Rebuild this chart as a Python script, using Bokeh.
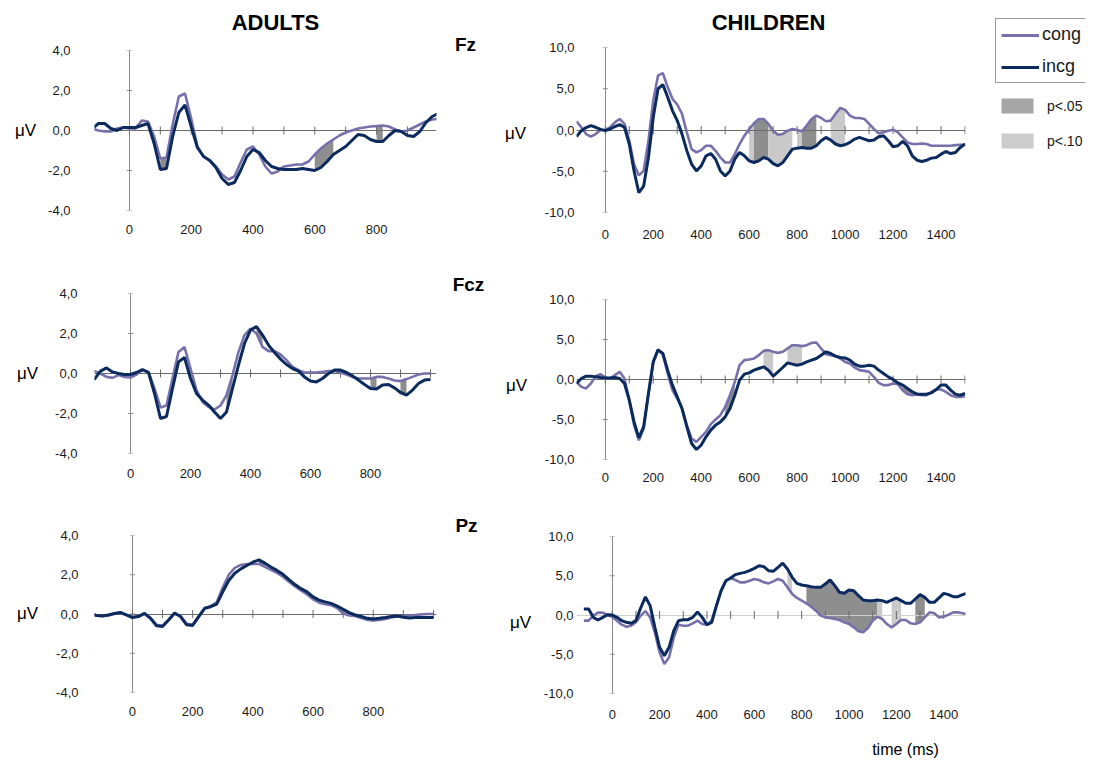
import numpy as np
from bokeh.plotting import figure
from bokeh.models import Range1d, FixedTicker, Label, Legend, LegendItem
from bokeh.layouts import row, column
from bokeh.embed import file_html
from bokeh.resources import INLINE

# ---------------- data ----------------
t_adult = list(range(-140, 1001, 20))
t_child = list(range(-120, 1501, 20))

adult_fz_cong = [0.1, 0.1, 0.0, -0.05, -0.05, 0.1, 0.15,
                 0.1, 0.1, 0.5, 0.45, -0.3, -1.4, -1.35, 0.3, 1.7, 1.85, 0.6, -0.8, -1.3, -1.5, -1.8, -2.2, -2.45, -2.3,
                 -1.6, -0.95, -0.8, -1.2, -1.8, -2.15, -2.05, -1.8, -1.75, -1.7, -1.7, -1.55, -1.2, -0.9, -0.65, -0.45,
                 -0.25, -0.1, 0.0, 0.1, 0.15, 0.2, 0.22, 0.25, 0.2, 0.05, -0.05, 0.0, 0.15, 0.3, 0.45, 0.55, 0.58]
adult_fz_incg = [0.1, 0.1, 0.35, 0.35, 0.1, 0.0, 0.15,
                 0.15, 0.15, 0.25, 0.35, -0.65, -1.95, -1.9, -0.3, 0.9, 1.28, 0.2, -0.85, -1.3, -1.5, -1.85, -2.4, -2.7, -2.6,
                 -2.0, -1.3, -0.95, -1.1, -1.5, -1.8, -1.9, -1.95, -1.95, -1.95, -1.9, -1.95, -2.0, -1.85, -1.55, -1.2,
                 -1.0, -0.8, -0.5, -0.2, -0.25, -0.45, -0.55, -0.55, -0.25, 0.0, -0.05, -0.25, -0.3, -0.05, 0.4, 0.7, 0.85]

adult_fcz_cong = [0.12, 0.12, 0.0, -0.17, -0.22, -0.08, -0.17,
                  -0.2, -0.05, 0.17, 0.08, -0.75, -1.7, -1.6, -0.25, 1.08, 1.32, 0.25, -0.83, -1.42, -1.67, -1.8, -1.6, -1.08, -0.08,
                  1.08, 1.92, 2.25, 2.0, 1.33, 1.12, 1.12, 0.95, 0.67, 0.33, 0.17, 0.05, 0.05, 0.05, 0.08, 0.12,
                  0.12, 0.05, -0.05, -0.17, -0.25, -0.25, -0.25, -0.17, -0.17, -0.25, -0.35, -0.38, -0.28, -0.17, -0.05, 0.0, 0.0]
adult_fcz_incg = [-0.28, -0.28, 0.12, 0.28, 0.08, 0.0, -0.05,
                  -0.05, 0.05, 0.2, 0.05, -1.0, -2.25, -2.15, -0.75, 0.58, 0.8, -0.25, -1.0, -1.33, -1.58, -1.92, -2.25, -1.92, -0.75,
                  0.42, 1.5, 2.17, 2.35, 1.92, 1.42, 1.05, 0.72, 0.45, 0.25, 0.12, -0.17, -0.38, -0.42, -0.25, 0.0,
                  0.17, 0.17, 0.05, -0.12, -0.33, -0.55, -0.75, -0.78, -0.58, -0.55, -0.72, -0.95, -1.08, -0.83, -0.5, -0.33, -0.3]

adult_pz_cong = [0.03, -0.05, -0.1, -0.07, 0.0, 0.05, -0.05,
                 -0.15, -0.12, 0.02, -0.2, -0.55, -0.6, -0.3, 0.02, -0.12, -0.5, -0.55, -0.15, 0.3, 0.4, 0.6, 1.35, 2.0, 2.35,
                 2.5, 2.55, 2.55, 2.55, 2.4, 2.25, 2.1, 1.9, 1.65, 1.4, 1.2, 1.0, 0.75, 0.58, 0.5, 0.45,
                 0.3, 0.02, -0.08, -0.1, -0.2, -0.3, -0.33, -0.3, -0.25, -0.18, -0.12, -0.1, -0.08, -0.05, -0.02, 0.0, 0.0]
adult_pz_incg = [0.0, -0.08, -0.1, -0.05, 0.03, 0.08, -0.05,
                 -0.18, -0.13, 0.03, -0.22, -0.6, -0.64, -0.3, 0.05, -0.13, -0.55, -0.58, -0.13, 0.29, 0.37, 0.5, 1.13, 1.71, 2.08,
                 2.3, 2.47, 2.64, 2.76, 2.59, 2.39, 2.22, 2.02, 1.75, 1.5, 1.29, 1.13, 0.87, 0.71, 0.62, 0.54,
                 0.4, 0.24, 0.07, -0.05, -0.13, -0.22, -0.25, -0.22, -0.18, -0.13, -0.1, -0.17, -0.2, -0.18, -0.18, -0.18, -0.18]

child_fz_cong = [1.06, 0.33, -0.49, -0.81, -0.49, 0.0,
                 0.0, 0.33, 0.93, 1.34, 0.73, -1.3, -4.15, -5.5, -4.96, -1.3, 3.58, 6.6, 6.9, 5.2, 3.78, 3.09, 1.95, -0.28, -2.32, -2.72,
                 -2.44, -1.91, -1.91, -2.52, -3.33, -3.94, -3.94, -2.93, -1.7, -0.69, 0.12, 0.81, 1.34, 1.34, 0.73, -0.08,
                 -0.57, -0.49, -0.08, 0.12, 0.0, -0.16, 0.53, 1.34, 1.75, 1.46, 1.06, 1.14, 1.95, 2.68, 2.44,
                 1.75, 1.46, 1.46, 1.34, 0.73, 0.12, -0.41, -0.28, -0.08, 0.04, -0.28, -0.89, -1.5, -1.7, -1.7,
                 -1.63, -1.7, -1.91, -1.91, -1.91, -1.91, -1.91, -1.83, -1.79, -1.79]
child_fz_incg = [-0.8, -0.1, 0.3, 0.53, 0.33, 0.08,
                 -0.08, 0.12, 0.4, 0.65, 0.33, -1.7, -4.96, -7.6, -6.8, -3.33, 1.54, 5.0, 5.5, 4.0, 2.36, 1.14, -0.5, -2.5, -4.15, -4.96,
                 -4.35, -3.13, -2.85, -3.54, -4.96, -5.57, -4.96, -3.54, -2.72, -3.13, -3.74, -3.94, -3.74, -3.33, -3.54, -4.07,
                 -4.35, -3.94, -3.13, -2.32, -2.2, -2.11, -2.2, -2.2, -1.91, -1.3, -0.9, -1.22, -1.7, -1.91, -1.79,
                 -1.5, -1.1, -0.9, -1.1, -1.3, -1.22, -0.81, -0.69, -1.3, -2.03, -1.91, -1.38, -1.91, -3.13, -3.66,
                 -3.82, -3.66, -3.41, -3.33, -2.93, -2.6, -2.85, -2.72, -2.11, -1.7]

child_fcz_cong = [-0.3, -0.92, -1.12, -0.5, 0.42, 0.67,
                  0.25, 0.12, 0.54, 0.96, 0.12, -2.58, -5.7, -7.6, -6.13, -1.75, 2.2, 3.75, 3.17, 0.75, -1.33, -2.38, -3.63, -5.7, -7.38, -7.8,
                  -7.17, -6.54, -5.58, -5.0, -4.46, -3.42, -1.96, -0.3, 1.79, 2.42, 2.5, 2.63, 3.04, 3.58, 3.67, 3.46,
                  3.33, 3.46, 3.88, 4.29, 4.29, 4.17, 4.29, 4.58, 4.63, 3.88, 3.17, 3.04, 2.92, 2.63, 2.2,
                  2.0, 1.5, 1.17, 1.08, 0.96, 0.33, -0.42, -0.7, -0.7, -0.5, -0.58, -1.33, -1.83, -1.96, -1.83,
                  -1.96, -1.96, -1.54, -1.25, -1.25, -1.54, -1.96, -2.17, -2.17, -2.08]
child_fcz_incg = [-0.5, 0.12, 0.42, 0.42, 0.33, 0.25,
                  0.2, 0.2, 0.25, 0.12, -0.5, -2.58, -5.3, -7.3, -5.9, -1.75, 2.2, 3.7, 3.25, 1.17, -0.7, -2.17, -3.63, -5.9, -8.0, -8.75,
                  -8.2, -7.17, -6.33, -5.7, -5.3, -4.67, -3.63, -1.96, -0.08, 0.67, 0.83, 1.17, 1.38, 1.58, 1.17, 0.42,
                  0.96, 1.5, 2.08, 1.92, 1.79, 1.92, 2.2, 2.42, 2.63, 3.04, 3.46, 3.25, 2.92, 2.75, 2.7,
                  2.42, 1.92, 1.67, 1.67, 1.79, 1.67, 1.17, 0.75, 0.33, 0.0, -0.42, -0.7, -1.12, -1.54, -1.83,
                  -1.83, -1.83, -1.67, -1.25, -0.7, -0.7, -1.33, -1.83, -1.96, -1.75]

child_pz_cong = [-0.72, -0.72, -0.08, 0.3, 0.3, 0.0,
                 -0.21, -0.72, -1.23, -1.49, -1.36, -0.93, -0.08, 0.5, -0.3, -2.21, -4.76, -6.24, -5.39, -2.85, -1.23, -1.36, -1.36, -1.06, -0.72, -1.15,
                 -1.23, -0.72, 1.19, 3.1, 4.37, 4.71, 4.46, 4.16, 4.16, 4.37, 4.59, 4.46, 4.16, 4.03, 4.29, 4.59,
                 4.37, 3.52, 2.68, 2.17, 1.83, 1.49, 1.06, 0.55, -0.08, -0.3, -0.38, -0.51, -0.64, -0.93, -1.15,
                 -1.57, -2.08, -2.21, -1.66, -0.72, -0.21, -0.51, -1.15, -1.57, -1.15, -0.64, -0.64, -1.06, -1.15, -0.93,
                 -0.3, 0.34, 0.21, -0.3, -0.21, 0.04, 0.34, 0.34, 0.21, 0.13]
child_pz_incg = [0.76, 0.76, -0.3, -0.64, -0.3, 0.04,
                 0.0, -0.3, -0.72, -0.93, -1.06, -0.72, 0.89, 2.3, 1.19, -1.57, -4.12, -5.18, -4.12, -2.0, -0.72, -0.6, -0.6, -0.3, 0.4, -0.3,
                 -1.23, -0.93, 1.19, 3.1, 4.37, 4.71, 5.14, 5.3, 5.43, 5.65, 5.94, 6.28, 6.16, 5.65, 5.56, 6.07,
                 6.6, 5.86, 4.8, 4.03, 3.82, 3.74, 3.61, 3.52, 3.52, 3.95, 4.46, 3.74, 2.89, 2.76, 3.18,
                 3.1, 2.46, 1.91, 1.83, 1.83, 1.91, 1.83, 1.61, 1.91, 2.17, 1.83, 1.49, 1.49, 2.04, 2.59,
                 2.25, 1.61, 1.61, 2.17, 2.76, 2.59, 2.34, 2.34, 2.59, 2.8]

# significance windows (ms) and level
adult_fz_sig = [(100, 120, "p05"), (600, 660, "p05"), (800, 820, "p05")]
adult_fcz_sig = [(320, 340, "p05"), (420, 440, "p05"), (800, 820, "p05"), (900, 920, "p05")]
adult_pz_sig = [(420, 440, "p05"), (680, 720, "p05")]
child_fz_sig = [(600, 620, "p10"), (620, 680, "p05"), (680, 780, "p10"), (800, 820, "p10"),
                (820, 880, "p05"), (940, 1000, "p10")]
child_fcz_sig = [(500, 540, "p05"), (660, 700, "p10"), (760, 820, "p10"), (1240, 1280, "p05")]
child_pz_sig = [(740, 760, "p10"), (820, 1120, "p05"), (1120, 1140, "p10"), (1180, 1220, "p10"), (1280, 1320, "p05")]

# tick labels
adult_yticks = [-4, -2, 0, 2, 4]
adult_ylabels = ["-4,0", "-2,0", "0,0", "2,0", "4,0"]
child_yticks = [-10, -5, 0, 5, 10]
child_ylabels = ["-10,0", "-5,0", "0,0", "5,0", "10,0"]
adult_xticks = [0, 200, 400, 600, 800]
child_xticks = [0, 200, 400, 600, 800, 1000, 1200, 1400]
adult_zero_ticks = list(range(0, 1001, 100))
child_zero_ticks = list(range(0, 1501, 100))

series_names = ["cong", "incg"]
sig_names = ["p<.05", "p<.10"]
group_titles = ["ADULTS", "CHILDREN"]
electrodes = ["Fz", "Fcz", "Pz"]
unit_label = "μV"
time_label = "time (ms)"

# ---------------- style ----------------
FONT = "Liberation Sans"
C_CONG = "#7771ab"
C_INCG = "#0b2a5e"
FILL = {"p05": "#8e8e8e", "p10": "#c9c9c9"}
TXT = "#1a1a1a"


def blank(W, H):
    f = figure(width=W, height=H, x_range=Range1d(0, 1), y_range=Range1d(0, 1),
               x_axis_type=None, y_axis_type=None, output_backend="svg",
               toolbar_location=None, min_border=0)
    f.xgrid.visible = False
    f.ygrid.visible = False
    f.outline_line_color = None
    return f


def text(f, x, y, s, size, bold=False):
    f.add_layout(Label(x=x, y=y, x_units="screen", y_units="screen", text=s,
                       text_font=FONT, text_font_size=size, text_color="#000000",
                       text_font_style="bold" if bold else "normal",
                       text_align="center", text_baseline="middle"))


def panel(t, cong, incg, sig, xr, yr, yticks, ylabels, xticks, zticks,
          W, H, bl, br, bt, bb, ystand, xstand, zero_color):
    p = figure(width=W, height=H, x_range=Range1d(*xr), y_range=Range1d(*yr),
               output_backend="svg", toolbar_location=None,
               min_border_left=bl, min_border_right=br, min_border_top=bt, min_border_bottom=bb)
    p.xgrid.visible = False
    p.ygrid.visible = False
    p.outline_line_color = None

    ta = np.array(t, dtype=float)
    ca = np.array(cong, dtype=float)
    ia = np.array(incg, dtype=float)
    for a, b, lvl in sig:
        m = (ta >= a) & (ta <= b)
        p.varea(x=ta[m], y1=ca[m], y2=ia[m], fill_color=FILL[lvl], fill_alpha=1.0)

    # zero lines (axes through the origin) and their tick marks
    p.hspan(y=[0], line_color=zero_color, line_width=1)
    p.vspan(x=[0], line_color="#8a8a8a", line_width=1)
    p.scatter(x=zticks, y=[0] * len(zticks), marker="dash", size=8, angle=np.pi / 2,
              line_color="#6a6a6a", line_width=1)
    p.scatter(x=[0] * len(yticks), y=yticks, marker="dash", size=5,
              line_color="#8a8a8a", line_width=1)

    p.line(ta, ca, line_color=C_CONG, line_width=2.6)
    p.line(ta, ia, line_color=C_INCG, line_width=3.0)

    xa = p.xaxis[0]
    xa.ticker = FixedTicker(ticks=xticks)
    xa.axis_line_color = None
    xa.major_tick_line_color = None
    xa.minor_tick_line_color = None
    xa.major_tick_in = 0
    xa.major_tick_out = 0
    xa.major_label_standoff = xstand
    xa.major_label_text_font = FONT
    xa.major_label_text_font_size = "13px"
    xa.major_label_text_color = TXT

    ya = p.yaxis[0]
    ya.ticker = FixedTicker(ticks=yticks)
    ya.major_label_overrides = {v: s for v, s in zip(yticks, ylabels)}
    ya.axis_line_color = None
    ya.major_tick_line_color = None
    ya.minor_tick_line_color = None
    ya.major_tick_in = 0
    ya.major_tick_out = 0
    ya.major_label_standoff = ystand
    ya.major_label_text_font = FONT
    ya.major_label_text_font_size = "13px"
    ya.major_label_text_color = TXT
    return p


# adult column (x 45..448), common frame 94..436
a1 = panel(t_adult, adult_fz_cong, adult_fz_incg, adult_fz_sig, (-113, 994), (-4, 4),
           adult_yticks, adult_ylabels, adult_xticks, adult_zero_ticks,
           403, 215, 49, 12, 15, 40, 24, 14, "#6a6a6a")
a2 = panel(t_adult, adult_fcz_cong, adult_fcz_incg, adult_fcz_sig, (-120, 1020), (-4, 4),
           adult_yticks, adult_ylabels, adult_xticks, adult_zero_ticks,
           403, 240, 49, 12, 43, 37, 17, 15, "#6a6a6a")
a3 = panel(t_adult, adult_pz_cong, adult_pz_incg, adult_pz_sig, (-126, 1010), (-4, 4),
           adult_yticks, adult_ylabels, adult_xticks, adult_zero_ticks,
           403, 245, 49, 12, 45, 43, 16, 14, "#6a6a6a")

# children column (x 540..990), common frame 573..965
c1 = panel(t_child, child_fz_cong, child_fz_incg, child_fz_sig, (-120, 1502), (-10, 10),
           child_yticks, child_ylabels, child_xticks, child_zero_ticks,
           450, 215, 33, 25, 12, 38, 2, 17, "#6a6a6a")
c2 = panel(t_child, child_fcz_cong, child_fcz_incg, child_fcz_sig, (-120, 1502), (-10, 10),
           child_yticks, child_ylabels, child_xticks, child_zero_ticks,
           450, 240, 33, 25, 49, 31, 2, 13, "#6a6a6a")
c3 = panel(t_child, child_pz_cong, child_pz_incg, child_pz_sig, (-151, 1492), (-10, 10),
           child_yticks, child_ylabels, child_xticks, child_zero_ticks,
           450, 245, 33, 25, 46, 42, 3, 16, "#cfcfcf")

# text strips
header = blank(990, 35)
text(header, 275, 13, group_titles[0], "22px", True)
text(header, 768, 13, group_titles[1], "22px", True)

left_txt = blank(45, 700)
for yy, xx in zip([605, 362, 122], [25, 27, 27]):
    text(left_txt, xx, yy, unit_label, "17px")

mid_txt = blank(92, 700)
for name, xx, yy in zip(electrodes, [17, 20, 18], [691, 451, 210]):
    text(mid_txt, xx, yy, name, "19px", True)
for xx, yy in zip([67, 68, 72], [602, 350, 113]):
    text(mid_txt, xx, yy, unit_label, "17px")

footer = blank(990, 24)
text(footer, 905, 10, time_label, "16px")

# legend figure (x 990..1085, y 0..250)
lg = blank(95, 250)
r_cong = lg.line(x=[2, 3], y=[2, 2], line_color=C_CONG, line_width=3)
r_incg = lg.line(x=[2, 3], y=[2, 2], line_color=C_INCG, line_width=3)
r_p05 = lg.varea(x=[2, 3], y1=[2, 2], y2=[3, 3], fill_color="#a6a6a6")
r_p10 = lg.varea(x=[2, 3], y1=[2, 2], y2=[3, 3], fill_color="#cccccc")

leg1 = Legend(items=[LegendItem(label=series_names[0], renderers=[r_cong]),
                     LegendItem(label=series_names[1], renderers=[r_incg])],
              location=(5, 167), glyph_width=38, glyph_height=20, label_standoff=3,
              padding=5, spacing=11, margin=0, label_text_font=FONT, label_text_font_size="18px",
              label_text_color=TXT, border_line_color="#333333", border_line_width=1,
              background_fill_color="white", background_fill_alpha=1.0)
leg2 = Legend(items=[LegendItem(label=sig_names[0], renderers=[r_p05]),
                     LegendItem(label=sig_names[1], renderers=[r_p10])],
              location=(7, 100), glyph_width=40, glyph_height=19, label_standoff=10,
              padding=0, spacing=16, margin=0, label_text_font=FONT, label_text_font_size="14px",
              label_text_color=TXT, border_line_color=None, background_fill_alpha=0.0)
lg.add_layout(leg1, "center")
lg.add_layout(leg2, "center")

body = row(left_txt, column(a1, a2, a3), mid_txt, column(c1, c2, c3))
main = column(header, body, footer)
layout = row(main, lg)

open("out.html", "w").write(file_html(layout, INLINE))
